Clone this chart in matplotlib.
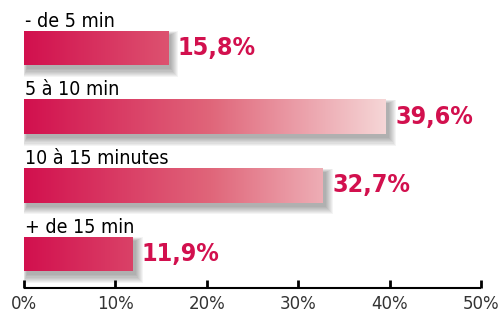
import numpy as np
import matplotlib.pyplot as plt
from matplotlib.colors import LinearSegmentedColormap
from matplotlib.patches import Rectangle

# Données
categories = ['- de 5 min', '5 à 10 min', '10 à 15 minutes', '+ de 15 min']
valeurs = [15.8, 39.6, 32.7, 11.9]
etiquettes = ['15,8%', '39,6%', '32,7%', '11,9%']
ticks = [0, 10, 20, 30, 40, 50]
tick_labels = ['0%', '10%', '20%', '30%', '40%', '50%']

rouge = '#d2104e'
degrade = LinearSegmentedColormap.from_list('degrade', [rouge, '#e0667a', '#f7dedd'])

fig = plt.figure(figsize=(5.02, 3.14), dpi=100)
ax = fig.add_axes([24 / 502, 26 / 314, 457 / 502, 288 / 314])

hauteur = 0.505
px_x = 50 / 457   # un pixel en unités x
px_y = 1 / 68.7   # un pixel en unités y
grad = np.linspace(0, 1, 256).reshape(1, -1)

for i, (cat, val, lab) in enumerate(zip(categories, valeurs, etiquettes)):
    y0 = i - hauteur / 2
    # ombre floue (vers le bas / la droite)
    for k in range(8):
        ax.add_patch(Rectangle(((3 - 0.6 * k) * px_x, y0 + (4 - 0.5 * k) * px_y),
                               val + 1.6 * k * px_x, hauteur + 1.6 * k * px_y,
                               facecolor='black', alpha=0.045, edgecolor='none', zorder=1))
    # barre en dégradé (0 -> 41 %)
    im = ax.imshow(grad, cmap=degrade, aspect='auto', extent=(0, 41, y0 + hauteur, y0),
                   zorder=2, interpolation='bilinear')
    clip = Rectangle((0, y0), val, hauteur, transform=ax.transData, facecolor='none', edgecolor='none')
    ax.add_patch(clip)
    im.set_clip_path(clip)
    ax.text(0.15, y0 - 0.06, cat, ha='left', va='baseline', fontsize=14, stretch='condensed',
            family=['DejaVu Sans'], color='black', zorder=3)
    ax.text(val + 1.0, i + 0.0, lab, ha='left', va='center', fontsize=18, fontweight='bold',
            stretch='condensed', family=['DejaVu Sans'], color=rouge, zorder=3)

ax.set_xlim(0, 50)
ax.set_ylim(3.495, -0.70)
for s in ['top', 'right', 'left']:
    ax.spines[s].set_visible(False)
ax.spines['bottom'].set_linewidth(1.5)
ax.spines['bottom'].set_capstyle('butt')
ax.set_yticks([])
ax.set_xticks(ticks)
ax.set_xticklabels(tick_labels, fontsize=12, color='#333333')
ax.tick_params(axis='x', direction='in', length=6, width=2, pad=5)
ax.patch.set_alpha(0)

fig.savefig('out.png', dpi=100)
